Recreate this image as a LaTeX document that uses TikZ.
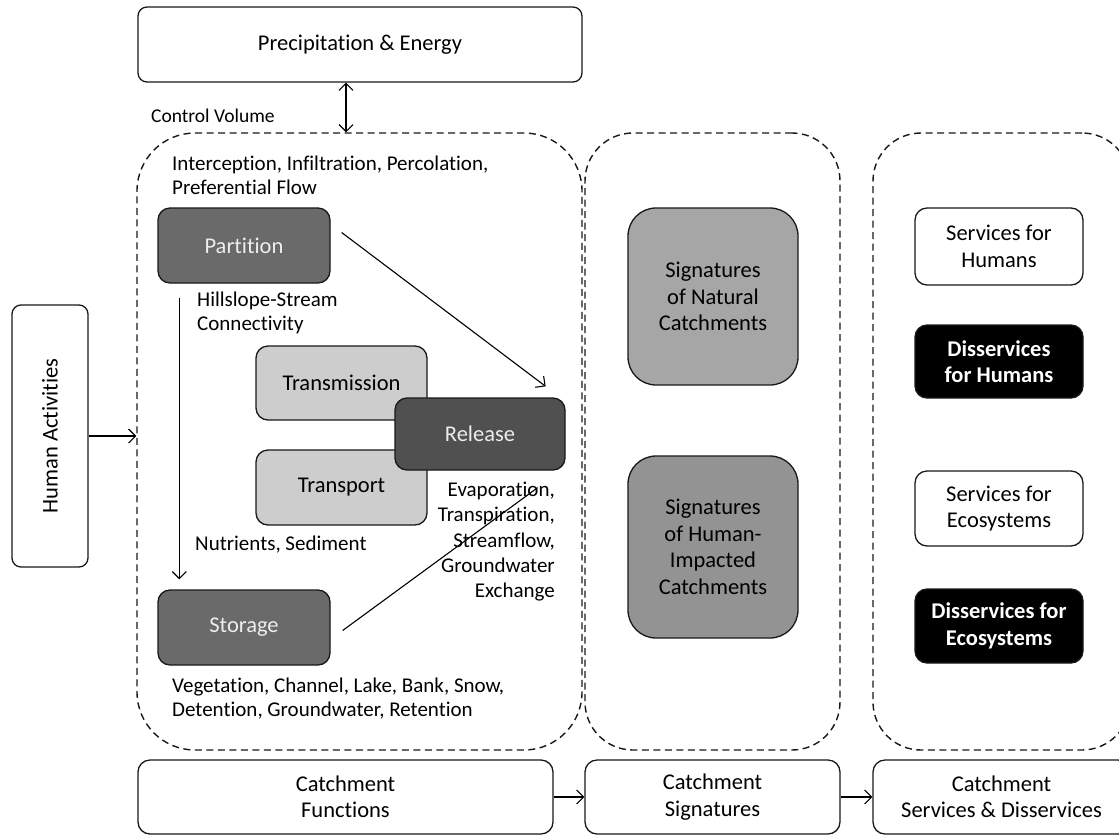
\documentclass[tikz,border=0pt]{standalone}
\usepackage{fontspec}
\setmainfont[Ligatures=NoCommon]{Carlito}
\usetikzlibrary{arrows.meta,positioning,calc}
\definecolor{darkfill}{HTML}{6A6A6A}
\definecolor{relfill}{HTML}{505050}
\definecolor{lightfill}{HTML}{CDCDCD}
\definecolor{sigA}{HTML}{A6A6A6}
\definecolor{sigB}{HTML}{939393}
\definecolor{boxtext}{HTML}{EDEDED}
\tikzset{
  box/.style={draw=black!90, line width=1.3pt, rounded corners=12pt, align=center,
    inner sep=0pt, font=\fontsize{22.5}{26.5}\selectfont},
  plainbox/.style={box, fill=white, rounded corners=9pt},
  darkbox/.style={box, fill=darkfill, text=boxtext},
  relbox/.style={box, fill=relfill, text=boxtext},
  lightbox/.style={box, fill=lightfill},
  sigbox/.style={box, rounded corners=28pt},
  blackbox/.style={box, fill=black, text=white, font=\fontsize{22.5}{26.5}\selectfont\bfseries},
  dashbox/.style={draw=black!90, line width=1.4pt, dash pattern=on 7pt off 4.5pt, inner sep=0pt},
  lbl/.style={font=\fontsize{21}{24}\selectfont, inner sep=0pt, align=left},
  arr/.style={line width=1.1pt, -{Straight Barb[length=7pt,width=14pt]}},
}
\begin{document}
\begin{tikzpicture}[x=1pt,y=-1pt]
\useasboundingbox (0,0) rectangle (1119,836);
\clip (0,0) rectangle (1119,836);
\fill[white] (0,0) rectangle (1119,836);

% dashed containers
\node[dashbox, rounded corners=58pt, minimum width=445pt, minimum height=617pt] (cv) at (359.5,441.5) {};
\node[dashbox, rounded corners=48pt, minimum width=255pt, minimum height=617pt] (sigcol) at (712.5,441.5) {};
\node[dashbox, rounded corners=48pt, minimum width=257pt, minimum height=617pt] (sercol) at (1001.5,441.5) {};

% top and side
\node[plainbox, minimum width=444pt, minimum height=75pt] (precip) at (360,44.5) {Precipitation \& Energy};
\node[plainbox, minimum width=76pt, minimum height=262pt] (human) at (50,436) {};
\node[rotate=90, font=\fontsize{22.5}{26}\selectfont] (humant) at (human.center) {Human Activities};
\node[lbl, anchor=west, font=\fontsize{19.5}{22}\selectfont] (cvl) at (151,116) {Control Volume};

% functions
\node[lbl, anchor=north west] (intl) at (172,156) {Interception, Infiltration, Percolation,\\Preferential Flow};
\node[darkbox, minimum width=172pt, minimum height=75pt] (part) at (244,245.5) {Partition};
\node[lbl, anchor=north west] (hill) at (197,292) {Hillslope-Stream\\Connectivity};
\node[lightbox, minimum width=171pt, minimum height=74pt] (trans) at (341.5,383) {Transmission};
\node[lightbox, minimum width=171pt, minimum height=75pt] (transp) at (341.5,487.5) {Transport};
\node[relbox, minimum width=170pt, minimum height=72pt] (rel) at (480,434) {Release};
\node[lbl, anchor=north east, align=right, font=\fontsize{21}{25.2}\selectfont] (evap) at (555,482) {Evaporation,\\Transpiration,\\Streamflow,\\Groundwater\\Exchange};
\node[lbl, anchor=west] (nutr) at (195,545) {Nutrients, Sediment};
\node[darkbox, minimum width=172pt, minimum height=75pt] (stor) at (244,627.5) {Storage};
\node[lbl, anchor=north west] (veg) at (172,678) {Vegetation, Channel, Lake, Bank, Snow,\\Detention, Groundwater, Retention};

% signatures
\node[sigbox, fill=sigA, minimum width=170pt, minimum height=177pt] (signat) at (713,296.5) {Signatures\\of Natural\\Catchments};
\node[sigbox, fill=sigB, minimum width=170pt, minimum height=182pt] (sighum) at (713,547) {Signatures\\of Human-\\Impacted\\Catchments};

% services
\node[plainbox, rounded corners=12pt, minimum width=168pt, minimum height=77pt] (sh) at (999,246.5) {Services for\\Humans};
\node[blackbox, minimum width=168pt, minimum height=73pt] (dh) at (999,361.5) {Disservices\\for Humans};
\node[plainbox, rounded corners=12pt, minimum width=168pt, minimum height=75pt] (se) at (999,508.5) {Services for\\Ecosystems};
\node[blackbox, minimum width=168pt, minimum height=74pt] (de) at (999,626) {Disservices for\\Ecosystems};

% bottom
\node[plainbox, rounded corners=12pt, minimum width=415pt, minimum height=74pt] (cf) at (345.5,797) {Catchment\\Functions};
\node[plainbox, rounded corners=12pt, minimum width=255pt, minimum height=74pt] (cs) at (712.5,797) {Catchment\\Signatures};
\node[plainbox, rounded corners=12pt, minimum width=257pt, minimum height=74pt] (csd) at (1001.5,797) {Catchment\\Services \& Disservices};

% connectors
\draw[line width=1.1pt, {Straight Barb[length=7pt,width=14pt]}-{Straight Barb[length=7pt,width=14pt]}] (precip.south -| 346,0) -- (cv.north -| 346,0);
\draw[arr] (human.east) -- (human.east -| cv.west);
\draw[arr] ([xshift=11pt,yshift=13pt]part.east) -- ([xshift=-20pt,yshift=11pt]rel.north east);
\draw[arr] ([xshift=22pt,yshift=-14pt]part.south west) -- ([xshift=22pt,yshift=10pt]stor.north west);
\draw[line width=1.1pt] ([xshift=12pt,yshift=-3pt]stor.east) -- ([xshift=-28pt,yshift=-17pt]rel.south east);
\draw[arr] (cf.east) -- (cs.west);
\draw[arr] (cs.east) -- (csd.west);
\end{tikzpicture}
\end{document}
